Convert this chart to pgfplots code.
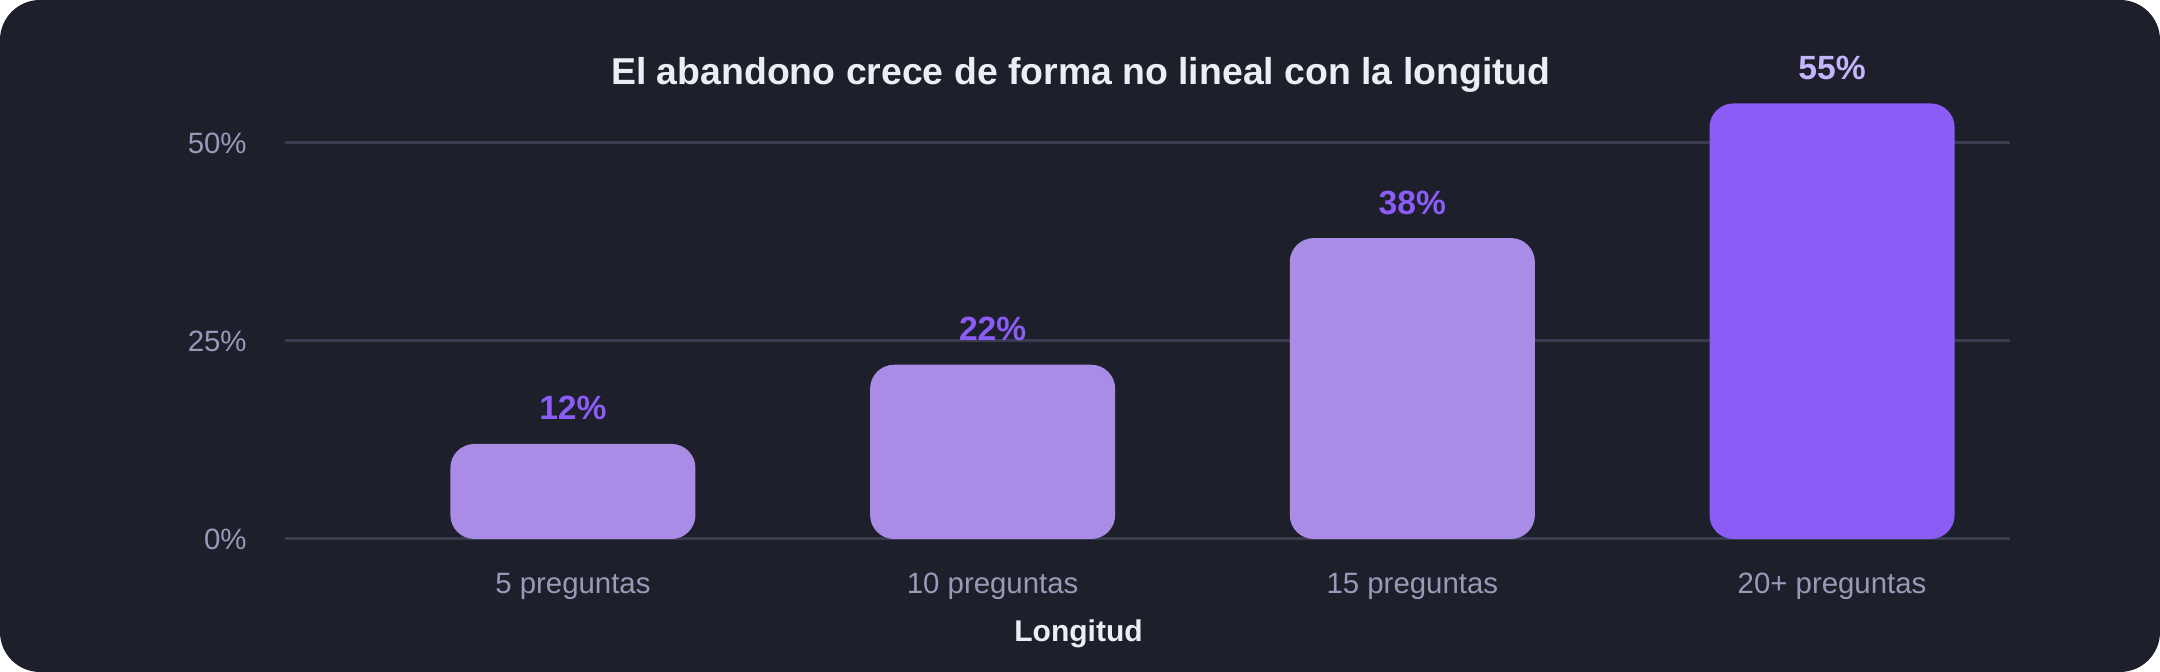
\documentclass[border=0pt]{standalone}
\usepackage{pgfplots}
\pgfplotsset{compat=1.18}
\usepackage{fontspec}
\setmainfont{Liberation Sans}
\definecolor{bg}{HTML}{1D1F2A}
\definecolor{gridc}{HTML}{3A3C50}
\definecolor{barlight}{HTML}{A88CE6}
\definecolor{bardark}{HTML}{8B5CF6}
\definecolor{lblA}{HTML}{8B5CF6}
\definecolor{lblB}{HTML}{C4B5FD}
\definecolor{tickc}{HTML}{979BB9}
\definecolor{titlec}{HTML}{EDEDF5}
\begin{document}
\begin{tikzpicture}
\useasboundingbox (0,0) rectangle (1080pt,336pt);
\fill[bg, rounded corners=20pt] (0,0) rectangle (1080pt,336pt);
\begin{axis}[
  at={(142.5pt,66.5pt)}, anchor=south west,
  scale only axis, width=862.5pt, height=198pt,
  xmin=-0.686, xmax=3.424, ymin=0, ymax=50,
  clip=false,
  /pgf/number format/assume math mode=true,
  axis line style={draw=none},
  major tick length=0pt,
  xtick={0,1,2,3},
  xticklabels={5 preguntas,10 preguntas,15 preguntas,20+ preguntas},
  ytick={0,25,50},
  yticklabels={0\%,25\%,50\%},
  ymajorgrids,
  grid style={gridc, line width=1.5pt},
  tick label style={font=\fontsize{14.7}{17}\selectfont, text=tickc},
  yticklabel style={anchor=east, inner sep=0pt, xshift=-19pt},
  xticklabel style={anchor=base, inner sep=0pt, yshift=-27.5pt},
  xlabel={Longitud},
  xlabel style={at={(axis description cs:0.460,0)}, anchor=base, yshift=-51.5pt, inner sep=0pt, font=\fontsize{15}{18}\selectfont\bfseries, text=titlec},
  title={El abandono crece de forma no lineal con la longitud},
  title style={at={(axis description cs:0.4614,1)}, anchor=base, yshift=23pt, inner sep=0pt, font=\fontsize{18.7}{22}\selectfont\bfseries, text=titlec},
  ybar, bar width=0.584, bar shift=0pt,
  nodes near coords={\pgfmathprintnumber{\pgfplotspointmeta}\%},
  every node near coord/.append style={anchor=base, yshift=12pt, inner sep=0pt, font=\fontsize{16.8}{20}\selectfont\bfseries},
]
\addplot[fill=barlight, draw=none, rounded corners=12pt, nodes near coords style={text=lblA}] coordinates {(0,12) (1,22) (2,38)};
\addplot[fill=bardark, draw=none, rounded corners=12pt, nodes near coords style={text=lblB}] coordinates {(3,55)};
\end{axis}
\end{tikzpicture}
\end{document}
